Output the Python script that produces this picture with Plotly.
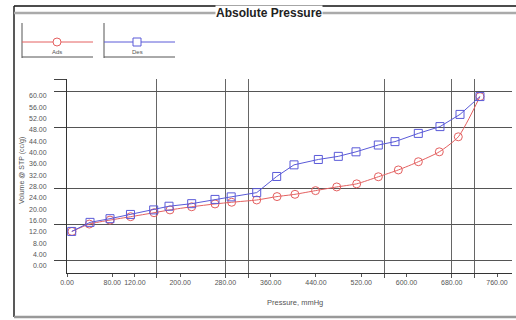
import plotly.graph_objects as go

# ---- data ----
ads_pressure = [8.8, 39.4, 76.0, 112.5, 153.8, 182.0, 220.4, 261.6, 291.1, 335.3, 371.2,
                402.9, 439.2, 476.7, 512.0, 550.3, 585.6, 621.0, 658.0, 691.6, 729.9]
ads_volume = [12.2, 14.8, 16.2, 17.4, 18.8, 19.8, 20.9, 21.9, 22.5, 23.3, 24.5,
              25.3, 26.6, 27.9, 29.0, 31.5, 33.9, 36.8, 40.3, 45.6, 59.8]
des_pressure = [8.3, 40.7, 76.0, 112.2, 153.2, 180.3, 220.4, 261.6, 290.2, 335.3, 370.6,
                401.2, 444.2, 479.5, 510.8, 550.2, 579.7, 620.9, 659.2, 694.6, 729.9]
des_volume = [12.2, 15.4, 16.7, 18.2, 19.8, 21.1, 22.0, 23.5, 24.4, 25.9, 31.6,
              35.7, 37.6, 38.7, 40.3, 42.7, 43.9, 46.8, 49.2, 53.5, 59.8]

x_tick_vals = [0, 80, 120, 200, 280, 360, 440, 520, 600, 680, 760]
y_tick_vals = [0, 4, 8, 12, 16, 20, 24, 28, 32, 36, 40, 44, 48, 52, 56, 60]
x_grid_vals = [159, 281, 320, 562, 680, 721]
y_grid_vals = [1.8, 14.5, 27.5, 48.9, 61.6, 65.95]

x_range = [0, 786.5]
y_range = [-2.47, 66.0]

W, H = 516, 320
RED = "#e46060"
BLUE = "#5a5ad8"
FONT = "Liberation Sans, Arial, sans-serif"
LABEL = "#555555"


def fx(px):
    return px / W


def fy(py):
    return 1 - py / H


fig = go.Figure()
fig.add_trace(go.Scatter(x=ads_pressure, y=ads_volume, name="Ads", mode="lines+markers",
                         line=dict(color=RED, width=1, shape="spline", smoothing=0.6),
                         marker=dict(symbol="circle-open", size=8, color=RED, line=dict(width=1))))
fig.add_trace(go.Scatter(x=des_pressure, y=des_volume, name="Des", mode="lines+markers",
                         line=dict(color=BLUE, width=1),
                         marker=dict(symbol="square-open", size=8, color=BLUE, line=dict(width=1))))

xdom = [fx(67), fx(512)]
ydom = [fy(273), fy(79)]

fig.update_layout(
    template="none",
    width=W, height=H, margin=dict(l=0, r=0, t=0, b=0),
    paper_bgcolor="white", plot_bgcolor="rgba(0,0,0,0)",
    showlegend=False, font=dict(family=FONT, size=7, color=LABEL),
    xaxis=dict(domain=xdom, range=x_range, tickvals=x_tick_vals,
               ticktext=["%.2f" % v for v in x_tick_vals], showgrid=False, zeroline=False,
               showline=True, linecolor="#333", linewidth=1, ticks="outside", ticklen=3,
               tickcolor="#555", tickfont=dict(size=7, color=LABEL)),
    yaxis=dict(domain=ydom, range=y_range, tickvals=y_tick_vals,
               ticktext=["%.2f" % v for v in y_tick_vals], showgrid=False, zeroline=False,
               showline=True, linecolor="#333", linewidth=1, ticks="outside", ticklen=18,
               tickcolor="rgba(0,0,0,0)", tickfont=dict(size=7, color=LABEL)),
    xaxis2=dict(domain=xdom, range=x_range, overlaying="x", side="bottom", tickvals=x_grid_vals,
                showticklabels=False, showgrid=True, gridcolor="#666", gridwidth=1,
                zeroline=False, showline=False, ticks="outside", ticklen=4, tickcolor="#555",
                anchor="y2"),
    yaxis2=dict(domain=ydom, range=y_range, overlaying="y", side="left", tickvals=y_grid_vals,
                showticklabels=False, showgrid=True, gridcolor="#555", gridwidth=1,
                zeroline=False, showline=False, ticks="outside", ticklen=12, tickcolor="#444",
                anchor="x2"),
)
fig.add_trace(go.Scatter(x=[None], y=[None], xaxis="x2", yaxis="y2", showlegend=False,
                         hoverinfo="skip"))

shapes = []


def pline(x0, y0, x1, y1, color, width):
    shapes.append(dict(type="line", xref="paper", yref="paper", x0=fx(x0), y0=fy(y0),
                       x1=fx(x1), y1=fy(y1), line=dict(color=color, width=width)))


# frame
pline(14, 6, 516, 6, "#111", 1.5)
pline(14, 6, 14, 317, "#222", 1.5)
pline(14, 317, 516, 317, "#999", 2.5)
pline(14, 13, 516, 13, "#aaa", 2.5)

# legend icons
for (x0, x1, c) in [(22, 93, RED), (104, 175, BLUE)]:
    pline(x0, 23, x0, 58, "#555", 1)
    pline(x0, 57, x1, 57, "#555", 1)
    pline(x0, 42, x1, 42, c, 1)
shapes.append(dict(type="circle", xref="paper", yref="paper", x0=fx(53), x1=fx(61),
                   y0=fy(46), y1=fy(38), line=dict(color=RED, width=1), fillcolor="white"))
shapes.append(dict(type="rect", xref="paper", yref="paper", x0=fx(133), x1=fx(141),
                   y0=fy(46), y1=fy(38), line=dict(color=BLUE, width=1), fillcolor="white"))
fig.update_layout(shapes=shapes)

annotations = [
    dict(text="<b>Absolute Pressure</b>", x=fx(269), y=fy(13), xref="paper", yref="paper",
         showarrow=False, font=dict(size=12, color="#222", family=FONT), bgcolor="white",
         borderpad=0, xanchor="center", yanchor="middle"),
    dict(text="Ads", x=fx(57), y=fy(52), xref="paper", yref="paper", showarrow=False,
         font=dict(size=6, color=LABEL), xanchor="center", yanchor="middle"),
    dict(text="Des", x=fx(137), y=fy(52), xref="paper", yref="paper", showarrow=False,
         font=dict(size=6, color=LABEL), xanchor="center", yanchor="middle"),
    dict(text="Pressure, mmHg", x=fx(295), y=fy(302), xref="paper", yref="paper",
         showarrow=False, font=dict(size=7.5, color=LABEL), xanchor="center", yanchor="middle"),
    dict(text="Volume @ STP (cc/g)", x=fx(22), y=fy(171), xref="paper", yref="paper",
         showarrow=False, textangle=-90, font=dict(size=7, color=LABEL),
         xanchor="center", yanchor="middle"),
]
fig.update_layout(annotations=annotations)

fig.write_html("out.html")
